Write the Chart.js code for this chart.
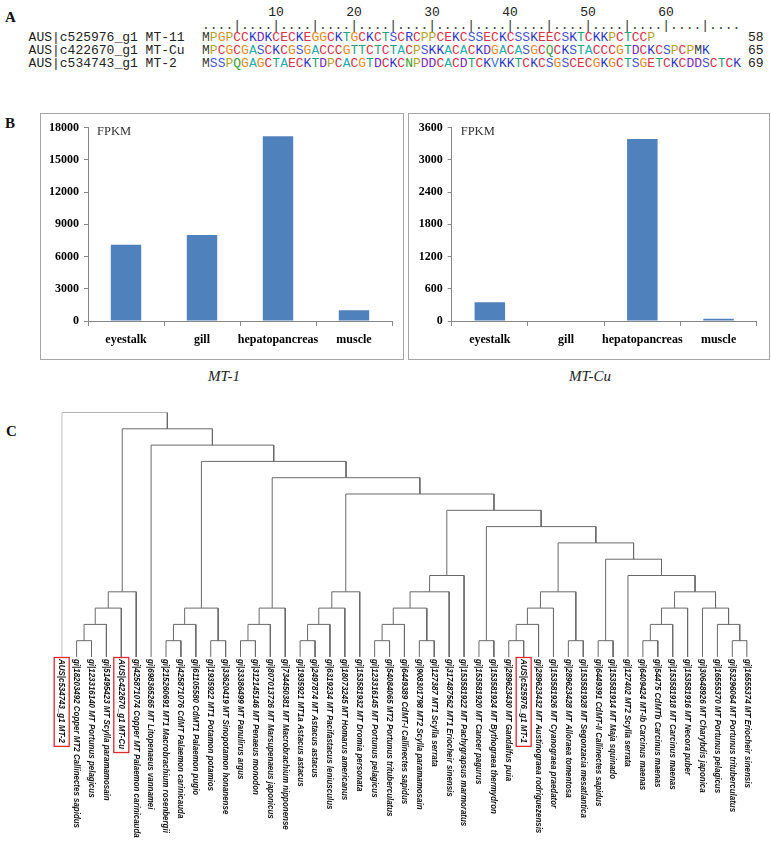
<!DOCTYPE html>
<html>
<head>
<meta charset="utf-8">
<script src="https://cdn.jsdelivr.net/npm/chart.js@4.4.1/dist/chart.umd.min.js"></script>
<style>
  body { margin: 0; background: #fff; width: 771px; height: 843px; position: relative; overflow: hidden; }
  .panel { position: absolute; font: bold 15px "Liberation Serif", serif; color: #111; }
  .mono { position: absolute; font: 13px "Liberation Mono", monospace; white-space: pre; line-height: 14px; color: #222; }
  .num { position: absolute; font: 13px "Liberation Mono", monospace; line-height: 14px; transform: translateX(-50%); color: #222; }
  .box { position: absolute; border: 1px solid #a6a6a6; box-sizing: border-box; }
  .cap { position: absolute; font: italic 15px "Liberation Serif", serif; transform: translateX(-50%); color: #222; }
  canvas { position: absolute; }
</style>
</head>
<body>
<div class="panel" style="left:5px;top:9px">A</div>
<div class="panel" style="left:5px;top:115px">B</div>
<div class="panel" style="left:6px;top:423px">C</div>

<div id="align"></div>

<div class="box" style="left:40px;top:113px;width:364px;height:247px"></div>
<div class="box" style="left:408px;top:113px;width:362px;height:247px"></div>
<canvas id="mt1Chart" width="364" height="247" style="left:40px;top:113px"></canvas>
<canvas id="mtCuChart" width="362" height="247" style="left:408px;top:113px"></canvas>
<div class="cap" style="left:224px;top:368px">MT-1</div>
<div class="cap" style="left:590px;top:368px">MT-Cu</div>

<canvas id="treeChart" width="771" height="443" style="left:0;top:400px"></canvas>

<script>
// Panel A: alignment
const seqNames = ['AUS|c525976_g1 MT-11', 'AUS|c422670_g1 MT-Cu', 'AUS|c534743_g1 MT-2'];
const seqs = [
    'MPGPCCKDKCECKEGGCKTGCKCTSCRCPPCEKCSSECKCSSKEECSKTCKKPCTCCP',
    'MPCGCGASCKCGSGACCCGTTCTCTACPSKKACACKDGACASGCQCKSTACCCGTDCKCSPCPMK',
    'MSSPQGAGCTAECKTDPCACGTDCKCNPDDCACDTCKVKKTCKCSGSCECGKGCTSGETCKCDDSCTCK'
];
const seqCounts = [58, 65, 69];
const rulerNumbers = [10, 20, 30, 40, 50, 60];

// Panel B: FPKM
const tissues = ['eyestalk', 'gill', 'hepatopancreas', 'muscle'];
const mt1Fpkm = [7100, 8000, 17200, 1000];
const mtCuFpkm = [350, 0, 3390, 40];
const mt1Ticks = [0, 3000, 6000, 9000, 12000, 15000, 18000];
const mtCuTicks = [0, 600, 1200, 1800, 2400, 3000, 3600];

// Panel C: tree (leaves left to right, merges as [child, child, level])
const leafNames = [
    'AUS|c534743_g1 MT-2',
    'gi|18203492 Copper MT2 Callinectes sapidus',
    'gi|123316140 MT Portunus pelagicus',
    'gi|51495423 MT Scylla paramamosain',
    'AUS|c422670_g1 MT-Cu',
    'gi|425871074 Copper MT Palaemon carinicauda',
    'gi|698365265 MT Litopenaeus vannamei',
    'gi|215260691 MT1 Macrobrachium rosenbergii',
    'gi|425871076 CdMT Palaemon carinicauda',
    'gi|61105580 CdMT1 Palaemon pugio',
    'gi|1935922 MT1 Potamon potamios',
    'gi|33620419 MT Sinopotamon honanense',
    'gi|33386499 MT Panulirus argus',
    'gi|312145146 MT Penaeus monodon',
    'gi|807013726 MT Marsupenaeus japonicus',
    'gi|734450381 MT Macrobrachium nipponense',
    'gi|1935921 MT1a Astacus astacus',
    'gi|2497874 MT Astacus astacus',
    'gi|6319234 MT Pacifastacus leniusculus',
    'gi|18073245 MT Homarus americanus',
    'gi|153581932 MT Dromia personata',
    'gi|123316145 MT Portunus pelagicus',
    'gi|54084065 MT2 Portunus trituberculatus',
    'gi|6449389 CdMT-I Callinectes sapidus',
    'gi|908301798 MT2 Scylla paramamosain',
    'gi|127387 MT1 Scylla serrata',
    'gi|317487562 MT1 Eriocheir sinensis',
    'gi|153581922 MT Pachygrapsus marmoratus',
    'gi|153581920 MT Cancer pagurus',
    'gi|153581924 MT Bythograea thermydron',
    'gi|289623430 MT Gandalfus puia',
    'AUS|c525976_g1 MT-1',
    'gi|289623432 MT Austinograea rodriguezensis',
    'gi|153581926 MT Cyanograea praedator',
    'gi|289623428 MT Alloraea tomentosa',
    'gi|153581928 MT Segonzacia mesatlantica',
    'gi|6449391 CdMT-II Callinectes sapidus',
    'gi|153581914 MT Maja squinado',
    'gi|127402 MT2 Scylla serrata',
    'gi|6409424 MT-Ib Carcinus maenas',
    'gi|54475 CdMTb Carcinus maenas',
    'gi|153581918 MT Carcinus maenas',
    'gi|153581916 MT Necora puber',
    'gi|30648926 MT Charybdis japonica',
    'gi|16555370 MT Portunus pelagicus',
    'gi|53296064 MT Portunus trituberculatus',
    'gi|16555374 MT Eriocheir sinensis'
];
const boxedLeaves = [0, 4, 31];
// internal node ids start at leafNames.length (47)
const merges = [
    [1, 2, 1], [47, 3, 2], [48, 4, 3], [49, 5, 4],            // 47-50
    [7, 8, 1], [51, 9, 2], [10, 11, 1], [52, 53, 3],           // 51-54
    [12, 13, 1], [55, 14, 2], [56, 15, 3],                     // 55-57
    [16, 17, 1], [58, 18, 2], [59, 19, 3], [60, 20, 4],        // 58-61
    [21, 22, 1], [62, 23, 2], [24, 25, 1], [63, 64, 3], [65, 26, 4], [66, 27, 5], // 62-67
    [28, 29, 1],                                               // 68
    [30, 31, 1], [69, 32, 2], [70, 33, 3], [34, 35, 1], [71, 72, 4], // 69-73
    [36, 37, 1],                                               // 74
    [39, 40, 1], [75, 41, 2], [76, 42, 3], [45, 46, 1], [44, 78, 2], [43, 79, 3], // 75-80
    [77, 80, 4], [38, 81, 5], [74, 82, 6], [73, 83, 7], [68, 84, 8], [67, 85, 9],
    [61, 86, 10], [57, 87, 11], [54, 88, 12], [6, 89, 13], [50, 90, 14], [0, 91, 15]
];

// ---- Panel A (text) ----
const aaColor = {
    M: '#3a3a3a', P: '#b3a12a', G: '#e88a22', C: '#d8324a', K: '#2a36c8', R: '#2a36c8',
    D: '#7a2ab8', E: '#d8324a', T: '#22a27a', S: '#4656cc', A: '#22aeb0', Q: '#35a035',
    N: '#35a035', V: '#3a78e0'
};
const align = document.getElementById('align');
const cw = 13 * 0.6;
const seqLeft = 202;
const rowY = [38, 51, 64];

rulerNumbers.forEach(n => {
    const d = document.createElement('div');
    d.className = 'num';
    d.textContent = n;
    d.style.left = (seqLeft + (n - 0.5) * cw) + 'px';
    d.style.top = '6px';
    align.appendChild(d);
});
let ruler = '';
for (let i = 1; i <= 69; i++) ruler += (i % 5 === 0) ? '|' : '.';
const rd = document.createElement('div');
rd.className = 'mono';
rd.textContent = ruler;
rd.style.left = seqLeft + 'px';
rd.style.top = '19px';
rd.style.color = '#333';
align.appendChild(rd);

seqs.forEach((s, r) => {
    const nm = document.createElement('div');
    nm.className = 'mono';
    nm.textContent = seqNames[r];
    nm.style.left = '28.6px';
    nm.style.top = (rowY[r] - 7) + 'px';
    align.appendChild(nm);

    const sq = document.createElement('div');
    sq.className = 'mono';
    sq.style.left = seqLeft + 'px';
    sq.style.top = (rowY[r] - 7) + 'px';
    sq.innerHTML = s.split('').map(c => '<span style="color:' + (aaColor[c] || '#333') + '">' + c + '</span>').join('');
    align.appendChild(sq);

    const ct = document.createElement('div');
    ct.className = 'mono';
    ct.textContent = seqCounts[r];
    ct.style.left = (seqLeft + 70 * cw) + 'px';
    ct.style.top = (rowY[r] - 7) + 'px';
    align.appendChild(ct);
});

// ---- Panel B ----
const serifBold = { family: 'Liberation Serif', weight: 'bold', size: 12 };
const fpkmLabel = {
    id: 'fpkmLabel',
    afterDraw(chart) {
        const ctx = chart.ctx, a = chart.chartArea;
        ctx.save();
        ctx.font = '12.5px "Liberation Serif"';
        ctx.fillStyle = '#333';
        ctx.textBaseline = 'middle';
        ctx.fillText('FPKM', a.left + 9, a.top + 4);
        ctx.restore();
    }
};

function makeBar(id, values, tickVals, axisW, padRight) {
    return new Chart(document.getElementById(id), {
        type: 'bar',
        data: {
            labels: tissues,
            datasets: [{
                data: values,
                backgroundColor: '#4f81bd',
                barPercentage: 0.4,
                categoryPercentage: 1
            }]
        },
        options: {
            responsive: false,
            animation: false,
            devicePixelRatio: 1,
            layout: { padding: { top: 14.7, right: padRight, bottom: 0, left: 0 } },
            plugins: { legend: { display: false }, tooltip: { enabled: false } },
            scales: {
                x: {
                    grid: { offset: true, drawOnChartArea: false, tickLength: 5, color: '#868686' },
                    border: { color: '#868686' },
                    ticks: { font: serifBold, color: '#000', padding: 7, minRotation: 0, maxRotation: 0, autoSkip: false },
                    afterFit: s => { s.height = 39; }
                },
                y: {
                    min: 0,
                    max: tickVals[tickVals.length - 1],
                    afterBuildTicks: s => { s.ticks = tickVals.map(v => ({ value: v })); },
                    grid: { drawOnChartArea: false, tickLength: 4, color: '#868686' },
                    border: { color: '#868686' },
                    ticks: { font: serifBold, color: '#000', padding: 5, callback: v => String(v) },
                    afterFit: s => { s.width = axisW; }
                }
            }
        },
        plugins: [fpkmLabel]
    });
}
makeBar('mt1Chart', mt1Fpkm, mt1Ticks, 48, 12);
makeBar('mtCuChart', mtCuFpkm, mtCuTicks, 43.7, 13.3);

// ---- Panel C ----
const nx = {}, nh = {};
leafNames.forEach((n, i) => { nx[i] = i; nh[i] = 0; });
const treePts = [];
merges.forEach(([a, b, lv], k) => {
    const id = leafNames.length + k;
    treePts.push({ x: nx[a], y: nh[a] }, { x: nx[a], y: lv }, { x: nx[b], y: lv }, { x: nx[b], y: nh[b] }, { x: nx[b], y: null });
    nx[id] = (nx[a] + nx[b]) / 2;
    nh[id] = lv;
});

const leafLabels = {
    id: 'leafLabels',
    afterDatasetsDraw(chart) {
        const ctx = chart.ctx, xs = chart.scales.x, ys = chart.scales.y;
        ctx.save();
        ctx.font = 'italic bold 9.5px "Liberation Sans"';
        const k = 169 / ctx.measureText(leafNames[1]).width;
        const y0 = ys.getPixelForValue(0) + 2;
        leafNames.forEach((name, i) => {
            const px = xs.getPixelForValue(i);
            const w = ctx.measureText(name).width * k;
            ctx.save();
            ctx.translate(px, y0);
            ctx.rotate(Math.PI / 2);
            ctx.scale(k, 1);
            ctx.fillStyle = '#111';
            ctx.textBaseline = 'middle';
            ctx.fillText(name, 0, 0);
            ctx.restore();
            if (boxedLeaves.includes(i)) {
                ctx.strokeStyle = '#e0282e';
                ctx.lineWidth = 1.3;
                ctx.strokeRect(px - 7.5, y0 - 1.5, 15, w + 5);
            }
        });
        ctx.restore();
    }
};

new Chart(document.getElementById('treeChart'), {
    type: 'scatter',
    data: {
        datasets: [{
            data: treePts,
            showLine: true,
            spanGaps: false,
            borderColor: '#6a6a6a',
            borderWidth: 1,
            pointRadius: 0
        }]
    },
    options: {
        responsive: false,
        animation: false,
        devicePixelRatio: 1,
        layout: { padding: { left: 61.7, right: 23.8, top: 12.5, bottom: 186 } },
        plugins: { legend: { display: false }, tooltip: { enabled: false } },
        scales: {
            x: { type: 'linear', min: 0, max: leafNames.length - 1, display: false },
            y: { type: 'linear', min: 0, max: 15, display: false }
        }
    },
    plugins: [leafLabels]
});
</script>
</body>
</html>
